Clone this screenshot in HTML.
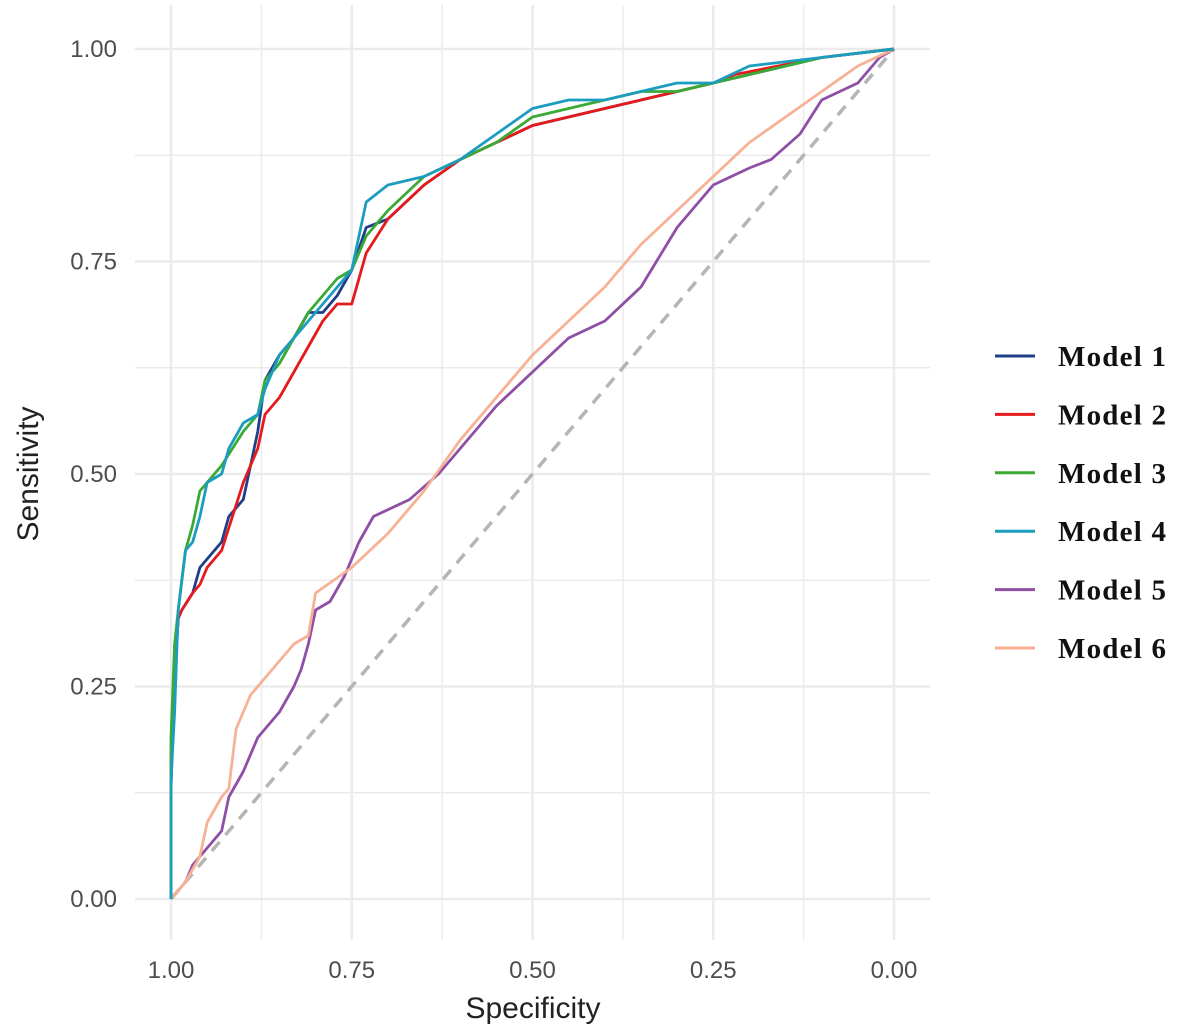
<!DOCTYPE html>
<html><head><meta charset="utf-8"><style>
body{margin:0;background:#fff;}
svg{display:block;font-family:"Liberation Sans",sans-serif;}
</style></head><body>
<svg id="chart" width="1181" height="1036" viewBox="0 0 1181 1036">
<g id="grid"></g>
<g id="marks"></g>
<g id="axes"></g>
<text x="533" y="1018" font-size="30" text-anchor="middle" fill="#222">Specificity</text>
<text transform="translate(38,474) rotate(-90)" font-size="30" text-anchor="middle" fill="#222">Sensitivity</text>
<g id="legend"></g>
</svg>
<script>
const ticks = [1.00, 0.75, 0.50, 0.25, 0.00];
const tickLabels = ["1.00", "0.75", "0.50", "0.25", "0.00"];
const models = ["Model 1", "Model 2", "Model 3", "Model 4", "Model 5", "Model 6"];
const colors = ["#1f3f8a", "#e41a1c", "#3aaa35", "#1c9dbf", "#8e4fa5", "#f7b295"];
const spec1 = [1,1,0.995,0.99,0.985,0.97,0.96,0.95,0.93,0.92,0.9,0.88,0.87,0.85,0.83,0.81,0.79,0.77,0.75,0.73,0.7,0.65,0.6,0.55,0.5,0.45,0.4,0.35,0.3,0.25,0.2,0.1,0];
const sens1 = [0,0.13,0.26,0.33,0.34,0.36,0.39,0.40,0.42,0.45,0.47,0.55,0.61,0.64,0.66,0.69,0.69,0.71,0.74,0.79,0.8,0.84,0.87,0.89,0.91,0.92,0.93,0.94,0.95,0.96,0.97,0.99,1];
const spec2 = [1,1,0.995,0.99,0.985,0.97,0.96,0.95,0.93,0.9,0.88,0.87,0.85,0.83,0.81,0.79,0.77,0.75,0.73,0.7,0.65,0.6,0.55,0.5,0.45,0.4,0.35,0.3,0.25,0.22,0.1,0];
const sens2 = [0,0.17,0.27,0.33,0.34,0.36,0.37,0.39,0.41,0.49,0.53,0.57,0.59,0.62,0.65,0.68,0.70,0.70,0.76,0.80,0.84,0.87,0.89,0.91,0.92,0.93,0.94,0.95,0.96,0.97,0.99,1];
const spec3 = [1,1,0.995,0.99,0.98,0.97,0.96,0.95,0.93,0.9,0.88,0.87,0.85,0.83,0.81,0.79,0.77,0.75,0.73,0.7,0.65,0.6,0.55,0.5,0.45,0.4,0.35,0.3,0.25,0.2,0.1,0];
const sens3 = [0,0.19,0.30,0.34,0.41,0.44,0.48,0.49,0.51,0.55,0.57,0.61,0.63,0.66,0.69,0.71,0.73,0.74,0.78,0.81,0.85,0.87,0.89,0.92,0.93,0.94,0.95,0.95,0.96,0.97,0.99,1];
const spec4 = [1,1,0.995,0.99,0.98,0.97,0.96,0.95,0.93,0.92,0.9,0.88,0.87,0.85,0.83,0.81,0.79,0.77,0.75,0.73,0.7,0.65,0.6,0.55,0.5,0.45,0.4,0.35,0.3,0.25,0.2,0.1,0];
const sens4 = [0,0.14,0.22,0.34,0.41,0.42,0.45,0.49,0.50,0.53,0.56,0.57,0.60,0.64,0.66,0.68,0.70,0.72,0.74,0.82,0.84,0.85,0.87,0.90,0.93,0.94,0.94,0.95,0.96,0.96,0.98,0.99,1];
const spec5 = [1,0.98,0.97,0.95,0.93,0.92,0.9,0.88,0.85,0.83,0.82,0.81,0.8,0.78,0.76,0.74,0.72,0.67,0.63,0.6,0.55,0.5,0.45,0.4,0.35,0.3,0.25,0.2,0.17,0.13,0.1,0.05,0.02,0];
const sens5 = [0,0.02,0.04,0.06,0.08,0.12,0.15,0.19,0.22,0.25,0.27,0.30,0.34,0.35,0.38,0.42,0.45,0.47,0.50,0.53,0.58,0.62,0.66,0.68,0.72,0.79,0.84,0.86,0.87,0.90,0.94,0.96,0.99,1];
const spec6 = [1,0.98,0.96,0.95,0.93,0.92,0.91,0.89,0.86,0.83,0.81,0.8,0.75,0.7,0.65,0.6,0.55,0.5,0.45,0.4,0.35,0.3,0.25,0.2,0.15,0.1,0.05,0];
const sens6 = [0,0.02,0.05,0.09,0.12,0.13,0.20,0.24,0.27,0.30,0.31,0.36,0.39,0.43,0.48,0.54,0.59,0.64,0.68,0.72,0.77,0.81,0.85,0.89,0.92,0.95,0.98,1];
const specs = [spec1, spec2, spec3, spec4, spec5, spec6];
const senss = [sens1, sens2, sens3, sens4, sens5, sens6];

const NS = "http://www.w3.org/2000/svg";
const X = s => 171 + (1 - s) * 723;
const Y = v => 899 - v * 850;
function mk(tag, attrs, parent) { const e = document.createElementNS(NS, tag); for (const k in attrs) e.setAttribute(k, attrs[k]); parent.appendChild(e); return e; }
const grid = document.getElementById('grid'), marks = document.getElementById('marks'), axes = document.getElementById('axes'), legend = document.getElementById('legend');
for (let i = 0; i <= 8; i++) {
  const v = i / 8;
  const hl = mk('line', {x1: 135, x2: 930, y1: Y(v), y2: Y(v), stroke: '#ebebeb', 'stroke-width': i % 2 ? 1.5 : 2.5}, grid);
  
  
  const vl = mk('line', {x1: X(v), x2: X(v), y1: 5, y2: 940, stroke: '#ebebeb', 'stroke-width': i % 2 ? 1.5 : 2.5}, grid);
  
  
}
ticks.forEach((t, i) => {
  const yl = mk('text', {x: 117, y: Y(t) + 8, 'font-size': 24, 'text-anchor': 'end', fill: '#4d4d4d'}, axes);
  yl.textContent = tickLabels[i];
  
  
  const xl = mk('text', {x: X(t), y: 978, 'font-size': 24, 'text-anchor': 'middle', fill: '#4d4d4d'}, axes);
  xl.textContent = tickLabels[i];
  
  
});
const diag = mk('line', {x1: X(1), y1: Y(0), x2: X(0), y2: Y(1), stroke: '#b5b5b5', 'stroke-width': 3.5, 'stroke-dasharray': '12 9'}, marks);


[4, 5, 0, 1, 2, 3].forEach(m => {
  const pts = specs[m].map((s, i) => X(s) + ',' + Y(senss[m][i])).join(' ');
  const pl = mk('polyline', {points: pts, fill: 'none', stroke: colors[m], 'stroke-width': 2.8, 'stroke-linejoin': 'round'}, marks);
  
  
});
models.forEach((name, i) => {
  const y = 356 + i * 58.4;
  const ln = mk('line', {x1: 995, x2: 1035, y1: y, y2: y, stroke: colors[i], 'stroke-width': 3}, legend);
  
  
  const tx = mk('text', {x: 1058, y: y + 10, 'font-size': 29, 'font-weight': 'bold', 'font-family': '"Liberation Serif",serif', fill: '#111', textLength: 108}, legend);
  tx.textContent = name;
  
  
});
</script>
</body></html>
